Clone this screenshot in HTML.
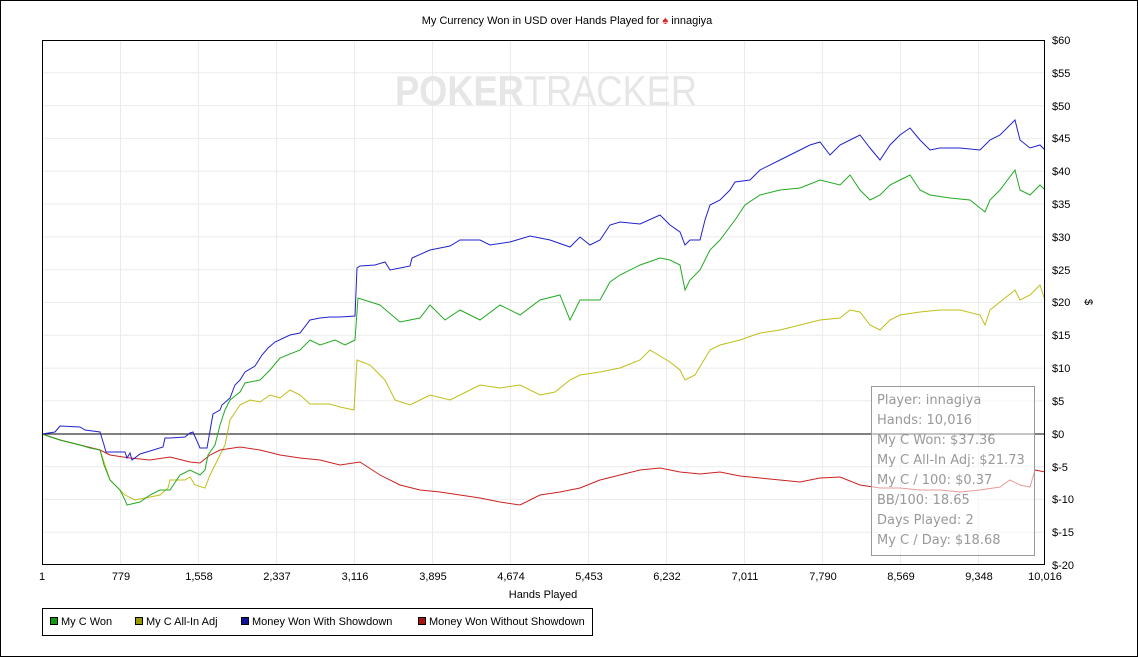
<!DOCTYPE html>
<html><head><style>
body{margin:0;background:#fff;}
svg{display:block;font-family:"Liberation Sans",sans-serif;}
</style></head><body>
<svg width="1138" height="657" xmlns="http://www.w3.org/2000/svg">
<rect x="0.5" y="0.5" width="1137" height="656" fill="#fff" stroke="#000"/>
<text x="567" y="24" font-size="11" text-anchor="middle">My Currency Won in USD over Hands Played for <tspan fill="#d22">♠</tspan> innagiya</text>
<g stroke="#ebebeb" stroke-width="1">
<line x1="120.5" y1="40" x2="120.5" y2="565"/><line x1="198.5" y1="40" x2="198.5" y2="565"/><line x1="276.5" y1="40" x2="276.5" y2="565"/><line x1="354.5" y1="40" x2="354.5" y2="565"/><line x1="432.5" y1="40" x2="432.5" y2="565"/><line x1="510.5" y1="40" x2="510.5" y2="565"/><line x1="588.5" y1="40" x2="588.5" y2="565"/><line x1="666.5" y1="40" x2="666.5" y2="565"/><line x1="744.5" y1="40" x2="744.5" y2="565"/><line x1="822.5" y1="40" x2="822.5" y2="565"/><line x1="900.5" y1="40" x2="900.5" y2="565"/><line x1="978.5" y1="40" x2="978.5" y2="565"/>
<line x1="42" y1="72.8" x2="1045" y2="72.8"/><line x1="42" y1="105.6" x2="1045" y2="105.6"/><line x1="42" y1="138.4" x2="1045" y2="138.4"/><line x1="42" y1="171.2" x2="1045" y2="171.2"/><line x1="42" y1="204" x2="1045" y2="204"/><line x1="42" y1="236.9" x2="1045" y2="236.9"/><line x1="42" y1="269.7" x2="1045" y2="269.7"/><line x1="42" y1="302.5" x2="1045" y2="302.5"/><line x1="42" y1="335.3" x2="1045" y2="335.3"/><line x1="42" y1="368.1" x2="1045" y2="368.1"/><line x1="42" y1="400.9" x2="1045" y2="400.9"/><line x1="42" y1="466.6" x2="1045" y2="466.6"/><line x1="42" y1="499.4" x2="1045" y2="499.4"/><line x1="42" y1="532.2" x2="1045" y2="532.2"/>
</g>
<text x="395" y="105" font-size="42" fill="#e6e6e6" textLength="302" lengthAdjust="spacingAndGlyphs"><tspan font-weight="bold">POKER</tspan>TRACKER</text>
<line x1="42" y1="434" x2="1045" y2="434" stroke="#000"/>
<g fill="none" stroke-width="1">
<polyline stroke="#b8b800" stroke-opacity=".9" points="42,434 60,440 80,445 100,450 105,465 110,480 125,495 135,500 150,497 160,495 168,488 170,480 185,480 190,477 195,485 205,488 210,475 215,465 220,455 225,445 230,420 240,405 250,400 260,402 270,395 280,398 290,390 300,395 310,404 330,404 340,407 354,410 357,360 370,365 385,380 395,400 410,405 430,395 450,400 470,390 480,385 500,388 520,385 540,395 555,392 570,380 580,375 600,372 620,368 640,360 650,350 670,362 680,370 685,380 695,375 710,350 720,345 740,340 760,333 780,330 800,325 820,320 840,318 850,310 860,312 870,325 880,330 890,320 900,315 920,312 940,310 960,310 980,315 985,325 990,310 1000,302 1015,290 1020,300 1030,295 1040,285 1045,300"/>
<polyline stroke="#cc2222" points="42,434 60,440 80,445 100,450 110,455 130,458 150,460 170,457 190,462 200,463 210,455 220,450 240,447 260,450 280,455 300,458 320,460 340,465 360,462 380,475 400,485 420,490 440,492 460,495 480,498 500,502 520,505 540,495 560,492 580,488 600,480 620,475 640,470 660,468 680,472 700,474 720,472 740,476 760,478 780,480 800,482 820,478 840,477 860,485 880,488 900,488 920,490 940,490 960,492 980,490 1000,487 1010,480 1020,485 1030,487 1035,470 1045,472"/>
<polyline stroke="#22aa22" points="42,434 60,440 80,445 90,448 100,450 104,465 110,480 120,490 125,500 127,505 140,502 150,495 160,490 170,490 180,475 190,470 200,475 205,470 208,455 215,445 220,425 225,410 230,400 240,392 245,383 260,380 270,370 280,358 300,350 310,340 320,345 335,340 345,345 355,340 358,298 380,305 400,322 420,318 430,305 445,320 460,310 480,320 500,305 520,315 540,300 560,295 570,320 580,300 600,300 610,282 620,275 640,265 660,258 670,260 680,265 685,290 690,280 700,270 710,250 720,240 735,220 745,205 760,195 780,190 800,188 820,180 840,185 850,175 860,190 870,200 880,195 890,185 900,180 910,175 920,190 930,195 950,198 970,200 985,212 990,200 1000,190 1015,170 1020,190 1030,195 1040,185 1045,190"/>
<polyline stroke="#2222cc" points="42,434 55,432 60,426 80,427 85,430 100,432 104,445 106,452 125,452 127,458 130,453 132,460 140,454 150,451 163,447 165,438 170,438 185,437 190,433 193,432 200,448 207,448 210,431 213,414 220,410 222,405 230,398 235,385 240,380 245,372 255,366 262,355 268,348 275,342 290,335 300,333 310,320 320,318 330,317 340,317 355,316 357,268 360,266 375,265 385,262 390,270 400,268 410,266 412,258 430,250 450,246 460,240 480,240 490,245 510,242 530,236 550,240 570,247 580,237 590,245 600,240 610,225 620,222 640,224 660,215 670,225 680,232 685,245 690,240 700,240 705,220 710,205 720,200 730,190 735,182 750,180 760,170 780,160 790,155 800,150 810,145 820,142 830,155 840,145 850,140 860,135 870,148 880,160 890,145 900,135 910,128 920,140 930,150 940,148 960,148 980,150 990,140 1000,135 1010,125 1015,120 1020,140 1030,148 1040,145 1045,150"/>
</g>
<rect x="42.5" y="40.5" width="1002" height="524" fill="none" stroke="#000"/>
<rect x="871.5" y="386.5" width="163" height="169" fill="#fff" fill-opacity=".55" stroke="#999"/>
<g font-size="13" fill="#999" font-family="DejaVu Sans,sans-serif">
<text x="877" y="404">Player: innagiya</text><text x="877" y="424">Hands: 10,016</text><text x="877" y="444">My C Won: $37.36</text><text x="877" y="464">My C All-In Adj: $21.73</text><text x="877" y="484">My C / 100: $0.37</text><text x="877" y="504">BB/100: 18.65</text><text x="877" y="524">Days Played: 2</text><text x="877" y="544">My C / Day: $18.68</text>
</g>
<g font-size="11" fill="#000">
<g text-anchor="middle">
<text x="42" y="580">1</text><text x="121" y="580">779</text><text x="199" y="580">1,558</text><text x="277" y="580">2,337</text><text x="355" y="580">3,116</text><text x="433" y="580">3,895</text><text x="511" y="580">4,674</text><text x="589" y="580">5,453</text><text x="667" y="580">6,232</text><text x="745" y="580">7,011</text><text x="823" y="580">7,790</text><text x="901" y="580">8,569</text><text x="979" y="580">9,348</text><text x="1045" y="580">10,016</text>
<text x="543" y="598">Hands Played</text>
</g>
<text x="1052" y="44">$60</text><text x="1052" y="77">$55</text><text x="1052" y="110">$50</text><text x="1052" y="142">$45</text><text x="1052" y="175">$40</text><text x="1052" y="208">$35</text><text x="1052" y="241">$30</text><text x="1052" y="274">$25</text><text x="1052" y="306">$20</text><text x="1052" y="339">$15</text><text x="1052" y="372">$10</text><text x="1052" y="405">$5</text><text x="1052" y="438">$0</text><text x="1052" y="471">$-5</text><text x="1052" y="503">$-10</text><text x="1052" y="536">$-15</text><text x="1052" y="569">$-20</text>
<text x="1085" y="302" transform="rotate(90 1085 302)" text-anchor="middle">$</text>
</g>
<rect x="42.5" y="608.5" width="550" height="27" fill="#fff" stroke="#000"/>
<g font-size="11">
<rect x="50.5" y="617.5" width="7" height="7" fill="#119911" stroke="#000"/><text x="61" y="625">My C Won</text>
<rect x="135.5" y="617.5" width="7" height="7" fill="#999900" stroke="#000"/><text x="146" y="625">My C All-In Adj</text>
<rect x="241.5" y="617.5" width="7" height="7" fill="#111199" stroke="#000"/><text x="252" y="625">Money Won With Showdown</text>
<rect x="418.5" y="617.5" width="7" height="7" fill="#aa1111" stroke="#000"/><text x="429" y="625">Money Won Without Showdown</text>
</g>
</svg>
</body></html>
